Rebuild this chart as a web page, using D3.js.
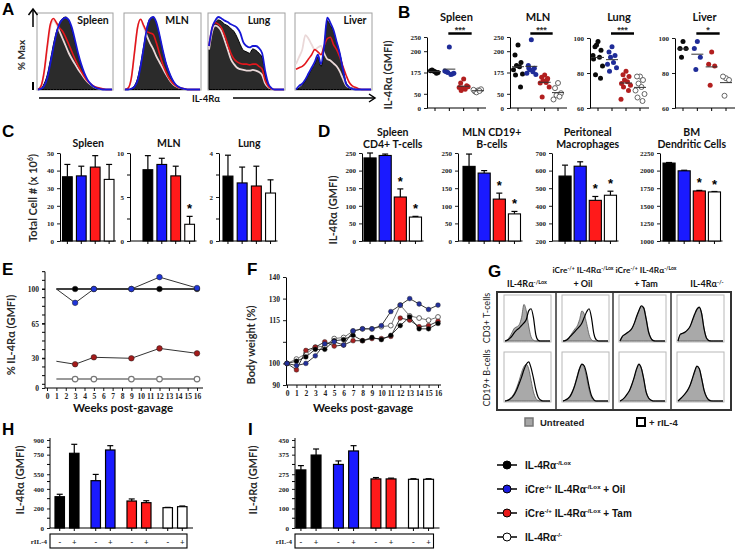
<!DOCTYPE html>
<html><head><meta charset="utf-8">
<script src="https://cdn.jsdelivr.net/npm/d3@7/dist/d3.min.js"></script>
<style>html,body{margin:0;padding:0;background:#fff}svg{display:block}</style>
</head><body>
<svg id="fig" width="735" height="551" xmlns="http://www.w3.org/2000/svg"></svg>
<script>
// ======================= DATA =======================
const groupKeys = ["lox", "oil", "tam", "ko"];
// A: flow histograms (% of max, per fluorescence bin)
const aTissues = ["Spleen", "MLN", "Lung", "Liver"];
const aSpleenBlack = [0,2,8,20,40,62,80,92,98,100,95,82,65,48,34,22,13,7,4,2,1,0,0,0,0];
const aSpleenBlue  = [0,1,5,16,36,58,78,91,97,99,96,85,68,50,35,23,14,8,4,2,1,0,0,0,0];
const aSpleenRed   = [0,5,25,60,90,98,92,85,80,72,62,52,42,33,25,18,12,8,5,3,2,1,0,0,0];
const aSpleenWhite = [0,4,22,55,85,95,90,80,70,60,50,42,35,28,22,16,11,7,4,2,1,0,0,0,0];
const aMLNBlack = [0,0,1,5,15,35,60,85,98,100,92,75,55,38,25,15,8,4,2,1,0,0,0,0,0];
const aMLNBlue  = [0,0,1,4,12,32,58,84,97,100,93,76,56,38,25,15,8,4,2,1,0,0,0,0,0];
const aMLNRed   = [0,2,15,50,85,97,88,80,78,76,65,50,36,25,16,10,6,3,2,1,0,0,0,0,0];
const aMLNWhite = [0,2,15,48,85,96,86,74,64,56,46,38,30,22,15,9,5,3,2,1,0,0,0,0,0];
const aLungBlack = [55,80,92,96,94,90,88,84,80,72,62,54,52,50,56,54,50,44,20,6,1,0,0,0,0];
const aLungBlue  = [60,85,95,100,98,95,93,90,88,85,78,65,60,58,60,60,57,50,25,8,2,0,0,0,0];
const aLungRed   = [60,85,92,90,85,75,62,50,42,38,36,35,35,34,35,35,32,28,12,4,1,0,0,0,0];
const aLungWhite = [55,80,88,86,80,68,55,42,35,30,28,27,26,26,27,26,24,20,8,3,1,0,0,0,0];
const aLiverBlack = [0,2,6,12,20,28,35,45,32,55,95,88,80,65,50,30,10,4,2,1,0,0,0,0,0];
const aLiverBlue  = [0,5,8,14,22,30,38,48,35,60,99,92,82,66,50,28,8,3,1,0,0,0,0,0,0];
const aLiverRed   = [28,30,32,36,42,48,55,52,48,60,70,72,62,55,45,32,20,10,5,3,1,0,0,0,0];
const aLiverWhite = [35,45,55,75,70,62,55,58,60,50,42,40,36,32,25,15,6,3,1,0,0,0,0,0,0];

// B: IL-4Ra GMFI per mouse
const bTickLabelsSL = ["0", "50", "175", "200", "250"];
const bSpleenBlack = [128,134,125,130,122,131];
const bSpleenBlue  = [215,128,120,125,118,130,122];
const bSpleenRed   = [102,88,78,70,66,72,75,62];
const bSpleenWhite = [62,58,66,55,60,64];
const bMLNBlack = [222,187,160,150,145,135,120,116,74];
const bMLNBlue  = [240,150,140,135,128,122,118,140];
const bMLNRed   = [116,108,104,96,90,88,74,39,100];
const bMLNWhite = [88,70,52,45,40,30];
const bLungBlack = [98,95,93,96,89,88,84,79,77,90];
const bLungBlue  = [95,92,90,89,86,85,83,81];
const bLungRed   = [81,79,78,76,75,74,73,72,70,65];
const bLungWhite = [78,78,76,74,72,70,68,66,64];
const bLiverBlack = [98,94,94,89];
const bLiverBlue  = [98,94,89,82];
const bLiverRed   = [92,85,84,73];
const bLiverWhite = [77,78,76,67];

// C: total cell numbers (x10^6)
const cSpleenMean = [36.5,37,42,35],   cSpleenErr = [7,5.5,6.5,8.5];
const cMLNMean    = [8.1,8.7,7.4,1.9], cMLNErr    = [1.6,0.7,1.1,0.9];
const cLungMean   = [2.95,2.64,2.5,2.18], cLungErr = [0.95,0.72,0.9,0.6];

// D: IL-4Ra GMFI on cell types
const dSpleenMean = [236,243,125,68],  dSpleenErr = [14,4,23,2];
const dMLNMean    = [212,193,119,77],  dMLNErr    = [35,7,17,7];
const dPeritMean  = [569,625,431,460], dPeritErr  = [62,25,22,23];
const dBMMean     = [2107,1997,1711,1697], dBMErr = [8,8,8,6];

// E: % IL-4Ra over time
const eWeeks = [1,3,5,9,12,16];
const eBlack = [100,100,100,100,100,100];
const eBlue  = [100,86,100,100,112,101];
const eRed   = [27,24,31,30,40,35];
const eWhite = [9,9,9,9,9,9];
const eTicks = [0,30,65,100];

// F: body weight (%)
const fWeeks = [0,1,2,3,4,5,6,7,8,9,10,11,12,13,14,15,16];
const fBlue  = [100,99,100,103.5,109,110,108.5,115,116,116,117.5,124,127,130,127.5,125,127];
const fWhite = [100,102,104.5,107.5,108,111.5,112,115,116,116,117,117.5,127,122,121,120,121.5];
const fBlack = [100,101,103,106.5,106.5,110.5,111,113,110.5,112,111,113,117.5,121.5,116,116,118.5];
const fRed   = [100,97,106,107.5,110,108,108.5,110.5,110.5,111.5,111.5,112.5,121,120,117,117.5,119.5];
const fTickValues = [90,100,110,120,130,140];
const fTickLabels = ["90","100","","115","130","140"];

// G: histograms (untreated filled vs +rIL-4 open)
const gLoxCD3Fill  = [0,3,10,20,30,33,38,55,85,70,35,10,2,0,0,0,0,0,0,0];
const gLoxCD3Open  = [0,2,6,12,20,26,30,36,42,50,70,75,55,15,2,0,0,0,0,0];
const gLoxCD19Fill = [0,2,5,10,18,30,45,62,75,80,70,45,20,6,1,0,0,0,0,0];
const gLoxCD19Open = [0,1,4,8,15,25,38,52,68,80,85,72,50,25,8,2,0,0,0,0];
const gOilCD3Fill  = [0,2,6,12,20,28,35,50,70,62,40,15,3,0,0,0,0,0,0,0];
const gOilCD3Open  = [0,1,4,10,16,22,28,34,42,55,68,75,55,18,3,0,0,0,0,0];
const gOilCD19Fill = [0,2,6,12,22,36,55,72,80,72,50,25,8,2,0,0,0,0,0,0];
const gOilCD19Open = [0,2,5,10,20,34,52,70,80,76,58,32,12,3,0,0,0,0,0,0];
const gTamCD3Fill  = [0,10,15,18,22,28,40,55,70,80,78,55,25,8,2,0,0,0,0,0];
const gTamCD3Open  = [0,11,15,19,23,29,41,57,71,82,77,52,22,7,1,0,0,0,0,0];
const gTamCD19Fill = [0,3,8,14,22,35,50,68,78,72,50,22,8,2,0,0,0,0,0,0];
const gTamCD19Open = [0,3,8,15,23,36,52,70,80,71,48,20,7,2,0,0,0,0,0,0];
const gKoCD3Fill   = [0,15,18,20,25,32,45,60,72,78,65,30,8,2,0,0,0,0,0,0];
const gKoCD3Open   = [0,16,18,21,26,33,47,62,74,79,63,28,7,1,0,0,0,0,0,0];
const gKoCD19Fill  = [0,5,10,15,22,32,46,62,75,70,50,25,10,3,1,0,0,0,0,0];
const gKoCD19Open  = [0,5,10,16,23,33,48,64,76,70,48,23,9,2,0,0,0,0,0,0];

// H, I: IL-4Ra GMFI without (-) / with (+) rIL-4
const rIL4 = ["-", "+"];
const hMinus = [320,484,276,208], hMinusErr = [25,64,21,3];
const hPlus  = [764,798,259,218], hPlusErr  = [92,44,20,7];
const hTicks = [0,200,400,550,750,900];
const iMinus = [297,325,251,249], iMinusErr = [22,18,7,3];
const iPlus  = [373,394,251,249], iPlusErr  = [31,27,4,3];
const iTicks = [0,100,200,275,375,450];

// ======================= STYLE =======================
const SANS = "'Liberation Sans', Arial, sans-serif";
const CAL = "Lato, 'Liberation Sans', sans-serif";
const SERIF = "'Liberation Serif', 'Times New Roman', serif";
const barFill = ["#000000", "#1a1aff", "#ff1a1a", "#ffffff"];
const dotFill = ["#0a0a0a", "#1f2c98", "#b21f1f", "#ffffff"];
const lineMk  = ["#000000", "#1f35d8", "#a31b1b", "#ffffff"];

const svg = d3.select("#fig");
svg.append("rect").attr("width", 735).attr("height", 551).attr("fill", "#fff");

function rich(sel, parts, fs) {
  let up = false;
  parts.forEach(([s, sp]) => {
    const t = sel.append("tspan").text(s);
    if (sp) { t.attr("font-size", fs * 0.62); if (!up) { t.attr("dy", -fs * 0.38); up = true; } }
    else if (up) { t.attr("dy", fs * 0.38); up = false; }
  });
  return sel;
}
function label(x, y, s, o = {}) {
  const t = svg.append("text").attr("x", x).attr("y", y).text(s)
    .attr("font-family", o.ff || SANS).attr("font-size", o.fs || 10)
    .attr("font-weight", o.fw || "bold").attr("fill", o.fill || "#111")
    .attr("text-anchor", o.anchor || "middle");
  return t;
}
function vlabel(x, y, s, fs = 11, parts = null) {
  const t = svg.append("text").attr("transform", `translate(${x},${y}) rotate(-90)`)
    .attr("text-anchor", "middle").attr("font-family", CAL).attr("font-size", fs)
    .attr("font-weight", "bold").attr("fill", "#2a2a2a");
  if (parts) rich(t, parts, fs); else t.text(s);
  return t;
}
function axisStyle(g, fs = 7.5) {
  g.selectAll("path.domain").attr("stroke", "#000").attr("stroke-width", 1);
  g.selectAll(".tick line").attr("stroke", "#000").attr("stroke-width", 0.9);
  g.selectAll(".tick text").attr("font-family", SERIF).attr("font-weight", "bold")
    .attr("font-size", fs).attr("fill", "#222");
}
// panel letters
[["A",2,15],["B",398,18],["C",2,137],["D",318,137],["E",2,275],["F",247,275],["G",488,277],["H",2,435],["I",248,435]]
  .forEach(([s,x,y]) => label(x, y, s, {fs: 17, anchor: "start", fill: "#000"}));

// ======================= PANEL A =======================
(function () {
  const boxes = [[37,113],[124,201],[208,285],[295,372]];
  const titleX = [93, 177, 259, 355];
  const sets = [
    [aSpleenBlack, aSpleenBlue, aSpleenRed, aSpleenWhite],
    [aMLNBlack, aMLNBlue, aMLNRed, aMLNWhite],
    [aLungBlack, aLungBlue, aLungRed, aLungWhite],
    [aLiverBlack, aLiverBlue, aLiverRed, aLiverWhite]];
  const y = d3.scaleLinear().domain([0, 100]).range([89.5, 17]);
  sets.forEach((s, k) => {
    const [x0, x1] = boxes[k];
    const x = d3.scaleLinear().domain([0, s[0].length - 1]).range([x0 + 1, x1 - 1]);
    const area = d3.area().x((d, i) => x(i)).y0(y(0)).y1(d => y(d)).curve(d3.curveMonotoneX);
    const line = d3.line().x((d, i) => x(i)).y(d => y(d)).curve(d3.curveMonotoneX);
    svg.append("rect").attr("x", x0).attr("y", 13).attr("width", x1 - x0).attr("height", 77)
      .attr("fill", "#fff").attr("stroke", "#a0a0a0").attr("stroke-width", 1);
    svg.append("path").attr("d", area(s[0])).attr("fill", "#2b2b2b").attr("stroke", "#000").attr("stroke-width", 1);
    svg.append("path").attr("d", line(s[3])).attr("fill", "none").attr("stroke", "#ead8d8").attr("stroke-width", 1.8);
    svg.append("path").attr("d", line(s[2])).attr("fill", "none").attr("stroke", "#e3161c").attr("stroke-width", 1.6);
    svg.append("path").attr("d", line(s[1])).attr("fill", "none").attr("stroke", "#1717d6").attr("stroke-width", 1.8);
    label(titleX[k], 24, aTissues[k], {fs: 10.5, ff: CAL});
  });
  svg.append("line").attr("x1", 33).attr("x2", 33).attr("y1", 9).attr("y2", 27).attr("stroke", "#000").attr("stroke-width", 1.5);
  svg.append("path").attr("d", "M28.5,15 L33,9 L37.5,15").attr("fill", "none").attr("stroke", "#000").attr("stroke-width", 1.5);
  svg.append("line").attr("x1", 33).attr("x2", 33).attr("y1", 82).attr("y2", 90).attr("stroke", "#000").attr("stroke-width", 2);
  vlabel(25, 55, "% Max", 10);
  svg.append("line").attr("x1", 39).attr("x2", 180).attr("y1", 98).attr("y2", 98).attr("stroke", "#000").attr("stroke-width", 1.5);
  svg.append("line").attr("x1", 233).attr("x2", 374).attr("y1", 98).attr("y2", 98).attr("stroke", "#000").attr("stroke-width", 1.5);
  svg.append("path").attr("d", "M369,94 L375,98 L369,102").attr("fill", "none").attr("stroke", "#000").attr("stroke-width", 1.5);
  label(206, 102, "IL-4Rα", {fs: 9.5, ff: CAL});
})();

// ======================= PANEL B =======================
(function () {
  const jit = [0, -3, 3, -1.5, 1.5, -4.5, 4.5, -2.5, 2.5, -5, 5];
  const yA = d3.scaleLinear().domain([0, 250]).range([108, 37]);
  const yB = d3.scaleLinear().domain([60, 100]).range([108, 38]);
  const panels = [
    {t: "Spleen", ax: 427, xe: 486, c: [435, 478], y: yA, tv: [0,50,125,200,250], tl: bTickLabelsSL, d: [bSpleenBlack,bSpleenBlue,bSpleenRed,bSpleenWhite], st: "***"},
    {t: "MLN", ax: 510, xe: 567, c: [518, 558], y: yA, tv: [0,50,125,200,250], tl: bTickLabelsSL, d: [bMLNBlack,bMLNBlue,bMLNRed,bMLNWhite], st: "***"},
    {t: "Lung", ax: 590, xe: 649, c: [598, 640], y: yB, tv: [60,80,100], tl: null, d: [bLungBlack,bLungBlue,bLungRed,bLungWhite], st: "***"},
    {t: "Liver", ax: 675, xe: 735, c: [683, 726], y: yB, tv: [60,80,100], tl: null, d: [bLiverBlack,bLiverBlue,bLiverRed,bLiverWhite], st: "*"}];
  panels.forEach(p => {
    const x = d3.scalePoint().domain(groupKeys).range(p.c);
    const g = svg.append("g");
    const ax = g.append("g").attr("transform", `translate(${p.ax},0)`)
      .call(d3.axisLeft(p.y).tickValues(p.tv).tickSize(3).tickSizeOuter(0)
        .tickFormat((d, i) => p.tl ? p.tl[i] : d));
    axisStyle(ax, 7);
    g.append("line").attr("x1", p.ax).attr("x2", p.xe).attr("y1", 108).attr("y2", 108).attr("stroke", "#000");
    groupKeys.forEach(k => g.append("line").attr("x1", x(k)).attr("x2", x(k)).attr("y1", 108).attr("y2", 111).attr("stroke", "#000"));
    p.d.forEach((arr, gi) => {
      const cx = x(groupKeys[gi]);
      arr.forEach((v, j) => {
        g.append("circle").attr("cx", cx + jit[j % jit.length]).attr("cy", p.y(v)).attr("r", 2.5)
          .attr("fill", dotFill[gi]).attr("stroke", gi === 3 ? "#555" : "none").attr("stroke-width", 0.9);
      });
      const m = d3.mean(arr);
      g.append("line").attr("x1", cx - 6).attr("x2", cx + 6).attr("y1", p.y(m)).attr("y2", p.y(m)).attr("stroke", "#333").attr("stroke-width", 1);
    });
    const xm = (p.c[0] + p.c[1]) / 2;
    label(xm, 21, p.t, {fs: 11, ff: CAL});
    g.append("line").attr("x1", x("oil") - 1).attr("x2", x("tam") + 8).attr("y1", 33.5).attr("y2", 33.5).attr("stroke", "#000").attr("stroke-width", 2.5);
    label((x("oil") + x("tam") + 7) / 2, 32.5, p.st, {fs: 9, fill: "#333"});
  });
  vlabel(392, 75, "IL-4Rα (GMFI)", 11);
})();

// ======================= BAR PANELS (C, D) =======================
function barPanel(o) {
  const y = d3.scaleLinear().domain(o.domain).range([o.y0, o.y1]);
  const x = d3.scaleBand().domain(groupKeys).range(o.xr).paddingInner(o.pi).paddingOuter(0);
  const g = svg.append("g");
  const ax = g.append("g").attr("transform", `translate(${o.ax},0)`)
    .call(d3.axisLeft(y).tickValues(o.ticks).tickSize(3).tickSizeOuter(0).tickFormat(d3.format("d")));
  axisStyle(ax, 7);
  (o.minor || []).forEach(v => g.append("line").attr("x1", o.ax - 3).attr("x2", o.ax).attr("y1", y(v)).attr("y2", y(v)).attr("stroke", "#000"));
  g.append("line").attr("x1", o.ax).attr("x2", o.xr[1] + 2).attr("y1", o.y0).attr("y2", o.y0).attr("stroke", "#000");
  groupKeys.forEach((k, i) => {
    const cx = x(k) + x.bandwidth() / 2, v = o.means[i], e = o.errs[i];
    g.append("line").attr("x1", cx).attr("x2", cx).attr("y1", o.y0).attr("y2", o.y0 + 3).attr("stroke", "#000");
    g.append("line").attr("x1", cx).attr("x2", cx).attr("y1", y(v)).attr("y2", y(v + e)).attr("stroke", "#000").attr("stroke-width", 1.2);
    g.append("line").attr("x1", cx - 3).attr("x2", cx + 3).attr("y1", y(v + e)).attr("y2", y(v + e)).attr("stroke", "#000").attr("stroke-width", 1.2);
    g.append("rect").attr("x", x(k)).attr("y", y(v)).attr("width", x.bandwidth()).attr("height", o.y0 - y(v))
      .attr("fill", barFill[i]).attr("stroke", "#000").attr("stroke-width", 1.1);
    if ((o.stars || []).includes(i)) label(cx, y(v + e) - 3, "*", {fs: 13, fill: "#000"});
  });
  const tx = (o.xr[0] + o.xr[1]) / 2;
  o.title.forEach((t, i) => label(tx, o.ty + i * 12, t, {fs: 10.5, ff: CAL}));
}
barPanel({ax: 60, xr: [62.5, 114], pi: 0.3, domain: [0, 50], y0: 241, y1: 153, ticks: [0,10,20,30,40,50], means: cSpleenMean, errs: cSpleenErr, title: ["Spleen"], ty: 147});
barPanel({ax: 130, xr: [143, 194.5], pi: 0.3, domain: [0, 10], y0: 241, y1: 153, ticks: [0,5,10], minor: [2.5,7.5], means: cMLNMean, errs: cMLNErr, title: ["MLN"], ty: 147, stars: [3]});
barPanel({ax: 219, xr: [223, 275.5], pi: 0.3, domain: [0, 4], y0: 241, y1: 153, ticks: [0,2,4], minor: [1,3], means: cLungMean, errs: cLungErr, title: ["Lung"], ty: 147});
vlabel(37, 198, null, 11, [["Total Cell # (x 10", false], ["6", true], [")", false]]);

barPanel({ax: 362, xr: [364, 421.5], pi: 0.2, domain: [0, 250], y0: 241, y1: 153, ticks: [0,50,100,150,200,250], means: dSpleenMean, errs: dSpleenErr, title: ["Spleen", "CD4+ T-cells"], ty: 136, stars: [2,3]});
barPanel({ax: 458, xr: [463, 520.5], pi: 0.2, domain: [0, 250], y0: 241, y1: 153, ticks: [0,50,100,150,200,250], means: dMLNMean, errs: dMLNErr, title: ["MLN CD19+", "B-cells"], ty: 136, stars: [2,3]});
barPanel({ax: 552, xr: [559, 616.5], pi: 0.2, domain: [200, 700], y0: 241, y1: 153, ticks: [200,300,400,500,600,700], means: dPeritMean, errs: dPeritErr, title: ["Peritoneal", "Macrophages"], ty: 136, stars: [2,3]});
barPanel({ax: 660, xr: [663, 720.5], pi: 0.2, domain: [1000, 2250], y0: 241, y1: 153, ticks: [1000,1250,1500,1750,2000,2250], means: dBMMean, errs: dBMErr, title: ["BM", "Dendritic Cells"], ty: 136, stars: [2,3]});
vlabel(337, 210, "IL-4Rα (GMFI)", 11);

// ======================= PANEL E =======================
(function () {
  const x = d3.scaleLinear().domain([0, 16]).range([47, 197]);
  const y = d3.scaleLinear().domain([0, 100]).range([388, 289]);
  const g = svg.append("g");
  const ax = g.append("g").attr("transform", "translate(45,0)")
    .call(d3.axisLeft(y).tickValues(eTicks).tickSize(3).tickSizeOuter(0).tickFormat(d3.format("d")));
  axisStyle(ax, 7.5);
  ax.select("path.domain").attr("d", `M0,${y(0)}V${y(117.5)}`);
  d3.range(3.75, 118, 8.75).forEach(v => g.append("line").attr("x1", 42).attr("x2", 45).attr("y1", y(v)).attr("y2", y(v)).attr("stroke", "#000"));
  const xa = g.append("g").attr("transform", "translate(0,388)")
    .call(d3.axisBottom(x).tickValues(d3.range(0, 17)).tickSize(3).tickSizeOuter(0).tickFormat(d3.format("d")));
  axisStyle(xa, 7.5);
  xa.select("path.domain").attr("d", "M45,0H203");
  const series = [eWhite, eRed, eBlack, eBlue];
  const idx = [3, 2, 0, 1];
  const line = d3.line().x((d, i) => x(eWeeks[i])).y(d => y(d));
  series.forEach((s, k) => {
    const gi = idx[k];
    g.append("path").attr("d", line(s)).attr("fill", "none")
      .attr("stroke", gi === 3 ? "#9a9a9a" : (gi === 0 ? "#000" : "#333"))
      .attr("stroke-width", gi === 3 ? 2 : (gi === 0 ? 1.4 : 1));
    s.forEach((v, i) => { if (i === 0) return;
      g.append("circle").attr("cx", x(eWeeks[i])).attr("cy", y(v)).attr("r", 2.8)
        .attr("fill", lineMk[gi]).attr("stroke", gi === 3 ? "#777" : "#222").attr("stroke-width", gi === 3 ? 1.2 : 0.5);
    });
  });
  label(123, 412, "Weeks post-gavage", {fs: 11.5, ff: CAL});
  vlabel(15, 335, "% IL-4Rα (GMFI)", 11);
})();

// ======================= PANEL F =======================
(function () {
  const x = d3.scaleLinear().domain([0, 16]).range([287, 438]);
  const y = d3.scaleLinear().domain([90, 140]).range([385, 277]);
  const g = svg.append("g");
  const ax = g.append("g").attr("transform", "translate(286,0)")
    .call(d3.axisLeft(y).tickValues(fTickValues).tickSize(3).tickSizeOuter(0).tickFormat((d, i) => fTickLabels[i]));
  axisStyle(ax, 7.5);
  const xa = g.append("g").attr("transform", "translate(0,385)")
    .call(d3.axisBottom(x).tickValues(fWeeks).tickSize(3).tickSizeOuter(0).tickFormat(d3.format("d")));
  axisStyle(xa, 7.5);
  xa.select("path.domain").attr("d", "M286,0H441");
  const line = d3.line().x((d, i) => x(fWeeks[i])).y(d => y(d));
  const series = [[fWhite, 3], [fRed, 2], [fBlack, 0], [fBlue, 1]];
  series.forEach(([s, gi]) => {
    g.append("path").attr("d", line(s)).attr("fill", "none").attr("stroke", gi === 3 ? "#666" : "#222").attr("stroke-width", 0.9);
    s.forEach((v, i) => g.append("circle").attr("cx", x(fWeeks[i])).attr("cy", y(v)).attr("r", 2.4)
      .attr("fill", gi === 1 ? "#23309a" : (gi === 2 ? "#a52020" : lineMk[gi]))
      .attr("stroke", gi === 3 ? "#666" : "#222").attr("stroke-width", gi === 3 ? 1 : 0.4));
  });
  label(363, 412, "Weeks post-gavage", {fs: 11.5, ff: CAL});
  vlabel(255, 345, "Body weight (%)", 11);
})();

// ======================= PANEL G =======================
(function () {
  const colX = [504, 562, 619, 677], rowY = [295, 352], rowH = [47, 50], w = 47;
  const cells = [
    [[gLoxCD3Fill, gLoxCD3Open], [gLoxCD19Fill, gLoxCD19Open]],
    [[gOilCD3Fill, gOilCD3Open], [gOilCD19Fill, gOilCD19Open]],
    [[gTamCD3Fill, gTamCD3Open], [gTamCD19Fill, gTamCD19Open]],
    [[gKoCD3Fill, gKoCD3Open], [gKoCD19Fill, gKoCD19Open]]];
  cells.forEach((col, c) => col.forEach(([fill, open], r) => {
    const x0 = colX[c], y0 = rowY[r], h = rowH[r];
    const x = d3.scaleLinear().domain([0, fill.length - 1]).range([x0 + 1, x0 + w - 1]);
    const y = d3.scaleLinear().domain([0, 100]).range([y0 + h - 1, y0 + 3]);
    svg.append("rect").attr("x", x0).attr("y", y0).attr("width", w).attr("height", h)
      .attr("fill", "#fff").attr("stroke", "#b8b8b8").attr("stroke-width", 1);
    svg.append("path").attr("d", d3.area().x((d, i) => x(i)).y0(y(0)).y1(d => y(d)).curve(d3.curveMonotoneX)(fill))
      .attr("fill", "#a9a9a9").attr("stroke", "#555").attr("stroke-width", 0.8);
    svg.append("path").attr("d", d3.line().x((d, i) => x(i)).y(d => y(d)).curve(d3.curveMonotoneX)(open))
      .attr("fill", "none").attr("stroke", "#000").attr("stroke-width", 1.2);
  }));
  svg.append("rect").attr("x", 497).attr("y", 292).attr("width", 234).attr("height", 118)
    .attr("fill", "none").attr("stroke", "#333").attr("stroke-width", 2);
  [556, 613, 671].forEach(xx => svg.append("line").attr("x1", xx).attr("x2", xx).attr("y1", 292).attr("y2", 410).attr("stroke", "#333").attr("stroke-width", 1.5));
  const hdr = (x, y, parts, fs) => rich(label(x, y, "", {fs, ff: CAL}), parts, fs);
  hdr(527, 287, [["IL-4Rα", false], ["-/Lox", true]], 9);
  hdr(583, 273, [["iCre", false], ["-/+", true], [" IL-4Rα", false], ["-/Lox", true]], 8.3);
  hdr(583, 287, [["+ Oil", false]], 9);
  hdr(646, 273, [["iCre", false], ["-/+", true], [" IL-4Rα", false], ["-/Lox", true]], 8.3);
  hdr(646, 287, [["+ Tam", false]], 9);
  hdr(707, 287, [["IL-4Rα", false], ["-/-", true]], 9);
  const vt = (x, y, s) => svg.append("text").attr("transform", `translate(${x},${y}) rotate(-90)`).attr("text-anchor", "middle")
    .attr("font-family", CAL).attr("font-size", 9).attr("fill", "#222").text(s);
  vt(490, 318, "CD3+ T-cells");
  vt(490, 378, "CD19+ B-cells");
  svg.append("rect").attr("x", 525).attr("y", 418).attr("width", 8).attr("height", 8).attr("fill", "#a6a6a6").attr("stroke", "#777").attr("stroke-width", 1.5);
  label(540, 426, "Untreated", {fs: 9.5, anchor: "start", fill: "#222"});
  svg.append("rect").attr("x", 637).attr("y", 418).attr("width", 8).attr("height", 8).attr("fill", "#fff").attr("stroke", "#000").attr("stroke-width", 2);
  label(649, 426, "+ rIL-4", {fs: 9.5, anchor: "start", fill: "#222"});
})();

// ======================= PANELS H, I =======================
function pairPanel(o) {
  const y = d3.scaleLinear().domain([0, o.max]).range([528, 440]);
  const xo = d3.scaleBand().domain(groupKeys).range(o.xr).paddingInner(1 / 3).paddingOuter(0);
  const xi = d3.scaleBand().domain(rIL4).range([0, xo.bandwidth()]).paddingInner(0.35);
  const g = svg.append("g");
  const ax = g.append("g").attr("transform", `translate(${o.ax},0)`)
    .call(d3.axisLeft(y).tickValues(o.ticks).tickSize(3).tickSizeOuter(0).tickFormat(d3.format("d")));
  axisStyle(ax, 7);
  ax.select("path.domain").attr("d", `M0,${y(0)}V${y(o.max) - 2}`);
  o.ticks.slice(1).forEach((t, i) => { const m = (t + o.ticks[i]) / 2;
    g.append("line").attr("x1", o.ax - 3).attr("x2", o.ax).attr("y1", y(m)).attr("y2", y(m)).attr("stroke", "#000"); });
  g.append("line").attr("x1", o.ax).attr("x2", o.xr[1] + 6).attr("y1", 528).attr("y2", 528).attr("stroke", "#000").attr("stroke-width", 1.2);
  g.append("rect").attr("x", o.ax).attr("y", 534).attr("width", o.xr[1] - o.ax).attr("height", 14)
    .attr("fill", "none").attr("stroke", "#000").attr("stroke-width", 1.1);
  label(o.ax - 3, 544, "rIL-4", {fs: 7, ff: SERIF, anchor: "end", fill: "#222"});
  groupKeys.forEach((k, gi) => {
    rIL4.forEach((r, ri) => {
      const v = (ri === 0 ? o.minus : o.plus)[gi], e = (ri === 0 ? o.minusErr : o.plusErr)[gi];
      const bx = xo(k) + xi(r), cx = bx + xi.bandwidth() / 2;
      g.append("line").attr("x1", cx).attr("x2", cx).attr("y1", 528).attr("y2", 531).attr("stroke", "#000");
      g.append("line").attr("x1", cx).attr("x2", cx).attr("y1", y(v)).attr("y2", y(v + e)).attr("stroke", "#000").attr("stroke-width", 1.2);
      g.append("line").attr("x1", cx - 3).attr("x2", cx + 3).attr("y1", y(v + e)).attr("y2", y(v + e)).attr("stroke", "#000").attr("stroke-width", 1.2);
      g.append("rect").attr("x", bx).attr("y", y(v)).attr("width", xi.bandwidth()).attr("height", 528 - y(v))
        .attr("fill", barFill[gi]).attr("stroke", "#000").attr("stroke-width", 1.2);
      label(cx, 545, r, {fs: 8, ff: SERIF, fill: "#222"});
    });
  });
  vlabel(o.lx, 480, "IL-4Rα (GMFI)", 11);
}
pairPanel({ax: 50, xr: [55, 187], max: 900, ticks: hTicks, minus: hMinus, plus: hPlus, minusErr: hMinusErr, plusErr: hPlusErr, lx: 24});
pairPanel({ax: 295, xr: [296, 433.5], max: 450, ticks: iTicks, minus: iMinus, plus: iPlus, minusErr: iMinusErr, plusErr: iPlusErr, lx: 257});

// ======================= LEGEND =======================
(function () {
  const names = [
    [["IL-4Rα", false], ["-/Lox", true]],
    [["iCre", false], ["-/+", true], [" IL-4Rα", false], ["-/Lox", true], [" + Oil", false]],
    [["iCre", false], ["-/+", true], [" IL-4Rα", false], ["-/Lox", true], [" + Tam", false]],
    [["IL-4Rα", false], ["-/-", true]]];
  const ly = d3.scalePoint().domain(groupKeys).range([465, 537]);
  const mk = ["#000", "#1a1ae0", "#e81818", "#fff"];
  groupKeys.forEach((k, i) => {
    const yy = ly(k);
    svg.append("line").attr("x1", 497).attr("x2", 517).attr("y1", yy).attr("y2", yy).attr("stroke", "#000").attr("stroke-width", 1.5);
    svg.append("circle").attr("cx", 507).attr("cy", yy).attr("r", 4).attr("fill", mk[i]).attr("stroke", "#000").attr("stroke-width", 1);
    rich(label(525, yy + 4, "", {fs: 10, anchor: "start", fill: "#111"}), names[i], 10);
  });
})();
</script>
</body></html>
